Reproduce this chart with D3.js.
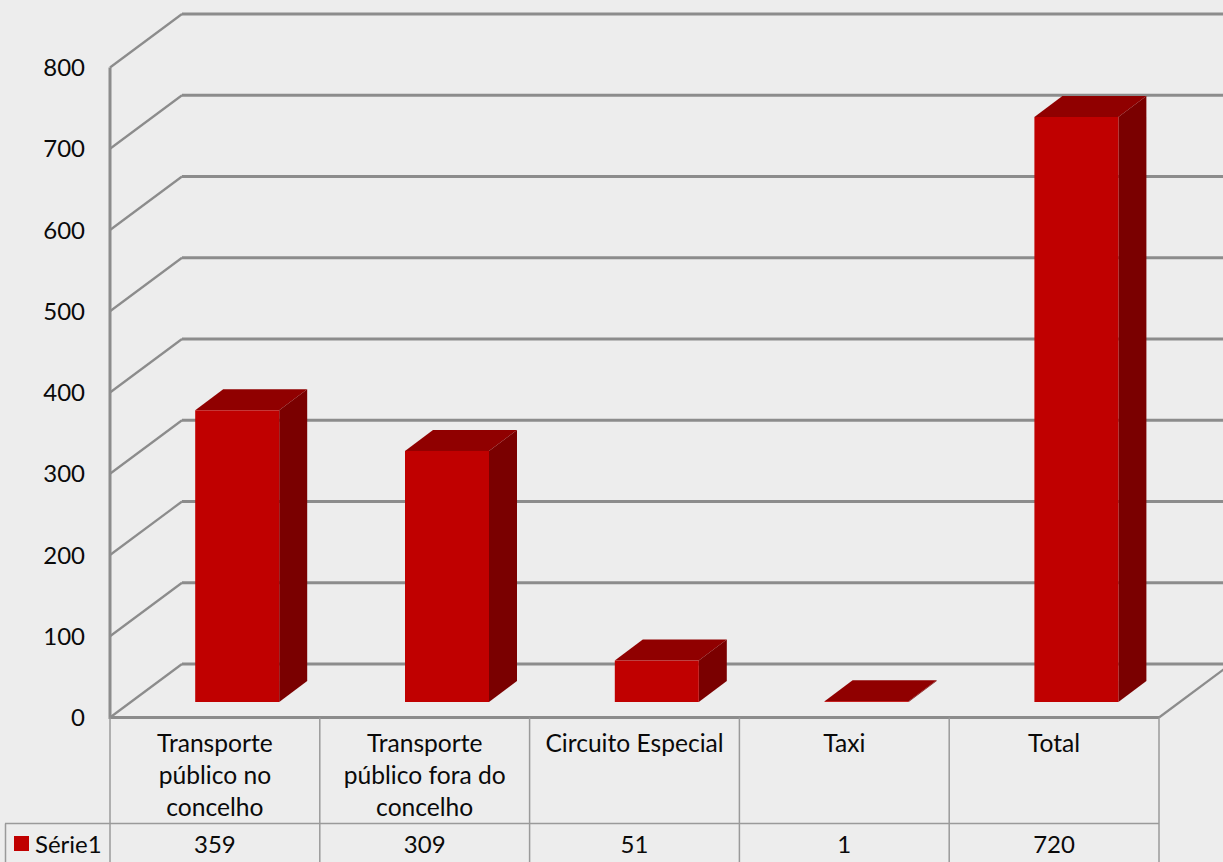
<!DOCTYPE html>
<html><head><meta charset="utf-8">
<script src="https://cdn.jsdelivr.net/npm/d3@7"></script>
<style>html,body{margin:0;padding:0;background:#ededed;overflow:hidden}svg{display:block}text{font-family:Lato,Carlito,sans-serif;font-size:24.6px;fill:#0a0a0a}text.n{font-size:24px}</style>
</head><body><div id="c"></div>
<script>
const categories=[["Transporte","público no","concelho"],["Transporte","público fora do","concelho"],["Circuito Especial"],["Taxi"],["Total"]];
const values=[359,309,51,1,720];
const seriesName="Série1";
const ticks=[0,100,200,300,400,500,600,700,800];
const W=1223,H=862,gray="#8c8c8c";
const svg=d3.select("#c").append("svg").attr("width",W).attr("height",H);
const x=d3.scaleBand().domain(d3.range(5)).range([110,1159]);
const y=d3.scaleLinear().domain([0,800]).range([717.5,67.5]);
const dx=72,dy=-53.5,bdx=28,bdy=-21,off=22.3,offY=-15.5,bw=84;
const g=svg.append("g");
// walls
ticks.forEach(t=>{
  g.append("path").attr("d",`M110,${y(t)}L${110+dx},${y(t)+dy}`).attr("stroke",gray).attr("stroke-width",2.2).attr("fill","none");
  g.append("path").attr("d",`M${110+dx},${y(t)+dy}H${W}`).attr("stroke",gray).attr("stroke-width",3).attr("fill","none");
});
g.append("path").attr("d",`M1159,${y(0)}L${1159+dx},${y(0)+dy}`).attr("stroke",gray).attr("stroke-width",2.2).attr("fill","none");
// axis
g.append("path").attr("d",`M110,${y(800)}V${y(0)}H1159`).attr("stroke",gray).attr("stroke-width",3).attr("fill","none");
ticks.forEach(t=>g.append("text").attr("class","n").attr("x",85).attr("y",y(t)+8.5).attr("text-anchor","end").text(t));
// bars
values.forEach((v,i)=>{
  const l=x(i)+(x.bandwidth()-bw)/2+off,r=l+bw,b=y(0)+offY,top=b-(y(0)-y(v));
  const bg=svg.append("g");
  bg.append("polygon").attr("points",[[l,top],[r,top],[r+bdx,top+bdy],[l+bdx,top+bdy]].join(" ")).attr("fill","#900000");
  bg.append("polygon").attr("points",[[r,top],[r+bdx,top+bdy],[r+bdx,b+bdy],[r,b]].join(" ")).attr("fill","#7a0000");
  bg.append("rect").attr("x",l).attr("y",top).attr("width",bw).attr("height",b-top).attr("fill","#c00000");
});
// data table
const T=svg.append("g"),rowY=823.5,tc="#9a9a9a";
d3.range(6).forEach(i=>{const px=i<5?x(i):1159;T.append("line").attr("x1",px).attr("x2",px).attr("y1",y(0)).attr("y2",H).attr("stroke",tc).attr("stroke-width",1.5);});
T.append("line").attr("x1",5).attr("x2",1159).attr("y1",rowY).attr("y2",rowY).attr("stroke",tc).attr("stroke-width",1.5);
T.append("line").attr("x1",5.5).attr("x2",5.5).attr("y1",rowY).attr("y2",H).attr("stroke",tc).attr("stroke-width",1.5);
T.append("rect").attr("x",14).attr("y",836).attr("width",15).attr("height",15).attr("fill","#c00000");
T.append("text").attr("class","n").attr("x",35).attr("y",853).text(seriesName);
categories.forEach((c,i)=>{
  const cx=x(i)+x.bandwidth()/2;
  c.forEach((s,j)=>T.append("text").attr("x",cx).attr("y",752+j*32).attr("text-anchor","middle").text(s));
  T.append("text").attr("class","n").attr("x",cx).attr("y",853).attr("text-anchor","middle").text(values[i]);
});
</script></body></html>
